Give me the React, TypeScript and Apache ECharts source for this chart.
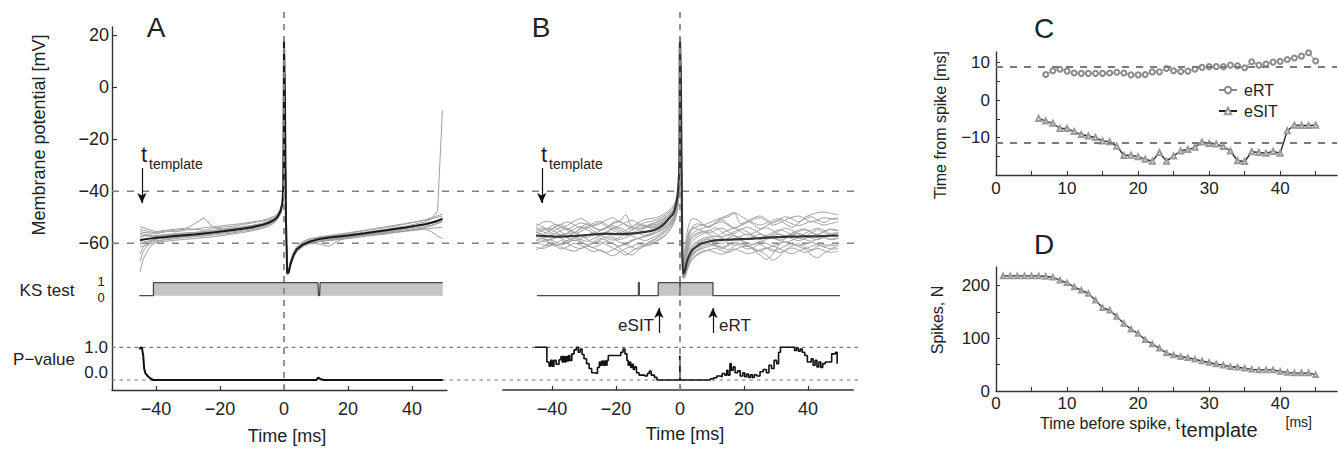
import React, { useEffect, useRef } from "react";
import * as echarts from "echarts";

const FONT = "'Liberation Sans', Arial, Helvetica, sans-serif";
const INK = "#222";

// ---------------- Panel A ----------------
const timeA = [-45, -44, -42, -40, -37, -34, -31, -28, -25, -22, -19, -16, -13, -10, -7, -5, -3, -2, -1, -0.5, -0.2, 0, 0.3, 0.6, 1, 1.5, 2, 3, 4, 6, 8, 11, 14, 17, 20, 23, 26, 29, 32, 35, 38, 41, 44, 46, 48, 49.5];
const meanA = [-58.8, -58.5, -58.2, -57.9, -57.6, -57.2, -56.9, -56.6, -56.2, -55.8, -55.4, -54.9, -54.4, -53.8, -53.0, -52.2, -51.0, -49.8, -47.5, -44.5, -38, 18, -5, -50, -71.5, -71, -68, -64.5, -62.3, -60.4, -59.4, -58.3, -57.8, -57.4, -57.0, -56.5, -56.0, -55.5, -55.0, -54.4, -53.9, -53.3, -52.7, -52.1, -51.4, -50.6];
const traceA1 = [-71, -66, -61.5, -59.5, -58.3, -57.8, -57.3, -56.8, -56.5, -56.1, -55.6, -55.2, -54.6, -54.0, -53.2, -52.4, -51.2, -50.0, -47.8, -44.8, -38.5, 17.5, -6, -51, -71, -70.5, -67.5, -64, -62, -60.2, -59.3, -58.8, -58.4, -58.0, -57.5, -57.0, -56.6, -56.2, -55.8, -55.3, -54.8, -54.2, -53.6, -53.0, -52.3, -51.5];
const traceA2 = [-55.5, -55.8, -56.0, -56.3, -55.6, -55.0, -54.6, -52.5, -50.2, -54.0, -54.6, -54.2, -53.8, -53.2, -52.6, -51.8, -50.6, -49.5, -47.2, -44.2, -37.5, 18, -4, -49, -71, -71.5, -68.5, -65, -62.8, -60.8, -59.8, -59.0, -58.6, -58.1, -57.4, -57.0, -56.4, -55.7, -55.2, -54.6, -54.0, -53.5, -52.8, -52.2, -51.5, -50.5];
const traceA3 = [-57.2, -57.0, -57.4, -57.0, -56.6, -56.3, -56.0, -55.8, -55.5, -55.0, -54.6, -54.1, -53.6, -53.1, -52.4, -51.6, -50.4, -49.2, -47.0, -44.0, -37, 18.5, -5.5, -50, -71, -70.8, -67.8, -64.2, -62, -60, -59.0, -58.2, -57.6, -57.1, -56.6, -56.1, -55.6, -55.1, -54.6, -54.0, -53.4, -52.6, -51.8, -50.8, -47.5, -9];
const traceA4 = [-60.5, -60.0, -59.5, -59.0, -58.7, -58.2, -57.8, -57.5, -57.2, -56.8, -56.4, -56.0, -55.4, -54.8, -54.0, -53.0, -51.8, -50.5, -48.0, -45.0, -39, 17.8, -6.5, -51, -72, -71.2, -68.2, -64.8, -62.5, -60.6, -59.6, -59.0, -58.6, -58.2, -57.8, -57.4, -57.0, -56.5, -56.0, -55.6, -55.2, -54.8, -54.4, -55.5, -57.2, -58.2];
const traceA5 = [-56.2, -56.4, -57.0, -57.2, -57.0, -56.6, -56.2, -55.9, -55.6, -55.3, -54.9, -54.4, -53.9, -53.4, -52.6, -51.8, -50.6, -49.4, -47.2, -44.2, -37.8, 18, -5, -50, -71.5, -71, -68, -64.6, -62.4, -60.5, -59.8, -60.3, -61.2, -59.0, -57.6, -57.0, -56.5, -56.0, -55.5, -55.0, -54.3, -53.5, -52.8, -52.0, -51.2, -50.3];
const traceA6 = [-54.5, -55.0, -55.5, -56.0, -55.2, -55.6, -55.0, -54.6, -55.0, -54.2, -53.8, -53.5, -52.8, -52.2, -51.6, -51.0, -50.0, -48.8, -46.5, -43.5, -36.8, 18, -4.5, -49, -70.8, -70.2, -67, -63.6, -61.6, -59.6, -58.6, -57.8, -57.2, -56.8, -56.2, -55.6, -55.0, -54.4, -53.9, -53.3, -52.6, -51.8, -51.0, -50.2, -49.4, -48.8];
const traceA7 = [-61.5, -61.0, -60.3, -59.6, -59.2, -58.8, -58.5, -58.2, -57.8, -57.5, -57.0, -56.4, -55.9, -55.2, -54.4, -53.5, -52.2, -50.8, -48.5, -45.2, -39.5, 17.5, -6, -51, -72, -71.8, -69, -65.4, -63.2, -61.2, -60.2, -59.4, -59.0, -58.6, -58.2, -57.7, -57.2, -56.8, -56.4, -55.8, -55.2, -54.6, -54.0, -53.3, -52.4, -51.8];
const traceA8 = [-67, -63, -59.8, -58.6, -57.0, -57.4, -56.5, -56.9, -55.9, -56.3, -55.0, -55.4, -54.0, -54.2, -53.0, -52.6, -51.4, -50.2, -48.0, -45.0, -38.2, 18, -5.2, -50.4, -71.3, -71, -68, -64.5, -62.2, -60.3, -59.2, -58.6, -58.0, -57.8, -57.0, -56.9, -56.2, -55.9, -55.3, -54.8, -54.2, -53.6, -53.0, -52.3, -51.7, -51.2];
const traceA9 = [-53.5, -54.0, -54.8, -55.5, -55.0, -54.6, -54.2, -54.6, -54.0, -53.6, -53.2, -52.8, -52.4, -51.8, -51.2, -50.6, -49.6, -48.6, -46.4, -43.4, -36.5, 18.2, -4.2, -48.8, -70.6, -70, -66.8, -63.2, -61.2, -59.2, -58.2, -57.5, -57.0, -56.5, -56.0, -55.4, -54.8, -54.2, -53.6, -53.0, -52.4, -51.8, -51.2, -50.6, -50.0, -49.5];
const traceA10 = [-59.8, -59.5, -59.0, -58.4, -58.0, -57.8, -57.4, -57.2, -56.8, -56.4, -56.0, -55.6, -55.0, -54.4, -53.6, -52.8, -51.6, -50.4, -48.2, -45.0, -38.8, 17.6, -5.8, -50.8, -71.8, -71.4, -68.6, -65.2, -63.0, -61.0, -60.0, -59.2, -58.8, -58.4, -57.9, -57.4, -57.0, -56.6, -56.2, -55.8, -55.4, -55.0, -54.6, -54.2, -54.0, -53.8];
const traceA11 = [-64, -61.5, -59.2, -58.0, -57.4, -56.9, -56.6, -56.2, -55.9, -55.5, -55.1, -54.7, -54.2, -53.6, -52.9, -52.1, -50.9, -49.7, -47.4, -44.4, -37.9, 18, -5, -50, -71.4, -70.9, -67.9, -64.4, -62.2, -60.2, -59.3, -58.5, -58.1, -57.7, -57.3, -56.8, -56.3, -55.8, -55.3, -54.8, -54.2, -53.6, -52.9, -52.3, -51.5, -50.2];
const traceA12 = [-57.8, -57.2, -56.6, -57.5, -57.0, -56.4, -56.8, -56.0, -55.8, -55.9, -55.0, -55.2, -54.2, -54.0, -53.3, -52.4, -51.3, -50.1, -47.8, -44.8, -38.3, 18, -5.1, -50.2, -71.6, -71.1, -68.1, -64.6, -62.4, -60.3, -59.5, -58.4, -58.0, -57.2, -57.1, -56.3, -56.2, -55.3, -55.1, -54.2, -54.0, -53.0, -52.6, -51.8, -51.0, -50.4];
const tracesA = [traceA1, traceA2, traceA3, traceA4, traceA5, traceA6, traceA7, traceA8, traceA9, traceA10, traceA11, traceA12];
const ksA = [[-45.2, 0], [-40.8, 0], [-40.8, 1], [10.6, 1], [10.8, 0], [11.1, 0], [11.3, 1], [49.6, 1]];
const pValueA = [[-45.2, 0.94], [-44.8, 1.0], [-44.4, 0.98], [-44.0, 0.75], [-43.7, 0.35], [-43.3, 0.2], [-42.4, 0.1], [-41.5, 0.03], [-40.8, 0], [10.0, 0], [10.7, 0.07], [11.5, 0.02], [12.5, 0], [49.6, 0]];

// ---------------- Panel B ----------------
const timeB = [-45, -43, -41, -39, -37, -35, -33, -31, -29, -27, -25, -23, -21, -19, -17, -15, -13, -11, -9, -7, -5, -3.5, -2, -1, -0.5, -0.2, 0, 0.3, 0.6, 1, 1.5, 2.2, 3, 4, 5.5, 7, 9, 11, 13, 15, 17, 19, 21, 23, 25, 27, 29, 31, 33, 35, 37, 39, 41, 43, 45, 47, 49.5];
const meanB = [-57.0, -57.2, -57.3, -57.4, -57.4, -57.3, -57.2, -57.0, -56.8, -56.6, -56.4, -56.3, -56.4, -56.5, -56.4, -56.2, -56.0, -55.6, -55.2, -54.3, -52.6, -50.6, -48.4, -43.5, -38, -30, 19, -2, -48, -71.7, -70.5, -67, -64.5, -62.5, -61, -60, -59.3, -58.9, -58.7, -58.6, -58.5, -58.4, -58.3, -58.2, -58.0, -57.8, -57.7, -57.6, -57.5, -57.4, -57.4, -57.3, -57.3, -57.3, -57.2, -57.1, -57.0];
const traceB1 = [-55.0, -54.0, -55.5, -53.5, -52.8, -54.6, -55.8, -54.0, -52.5, -53.8, -55.0, -54.2, -52.0, -51.5, -53.0, -54.5, -53.2, -52.0, -51.6, -50.8, -49.5, -48.0, -46.0, -43.0, -39.5, -33, 19, -2, -47, -70, -66, -60, -55.5, -53.5, -52.5, -53.0, -54.0, -52.2, -51.0, -52.5, -54.0, -53.0, -51.5, -52.8, -54.4, -53.2, -52.0, -51.2, -52.6, -53.8, -52.4, -50.0, -49.0, -48.2, -48.0, -48.5, -49.0];
const traceB2 = [-59.5, -60.5, -61.0, -60.0, -59.0, -60.2, -61.5, -62.0, -61.0, -60.0, -59.5, -60.5, -61.8, -63.0, -64.5, -63.0, -61.5, -60.5, -59.5, -58.0, -56.0, -54.0, -51.5, -47.5, -43, -36, 18.5, -4, -50, -73, -72, -69, -66.5, -64.5, -63, -62, -61.2, -60.5, -61.5, -62.5, -61.0, -60.0, -60.8, -62.0, -63.0, -64.5, -66.5, -65.0, -62.5, -61.0, -60.2, -61.5, -62.5, -61.2, -60.5, -61.0, -60.5];
const traceB3 = [-56.0, -55.0, -54.2, -55.5, -56.8, -56.0, -54.5, -53.5, -54.8, -56.2, -57.0, -56.0, -54.5, -54.0, -55.2, -56.5, -55.8, -54.2, -53.0, -52.5, -51.0, -49.5, -47.2, -44.5, -40.5, -35, 19, -3, -48, -71, -68, -63, -59, -57, -56, -55.5, -56.5, -57.5, -56.2, -55.0, -54.2, -55.5, -56.8, -56.0, -54.8, -54.0, -55.2, -56.5, -57.2, -56.0, -55.0, -54.5, -55.8, -56.5, -55.5, -54.8, -55.2];
const traceB4 = [-61.5, -62.0, -61.2, -60.5, -61.5, -62.5, -63.0, -62.0, -61.0, -61.8, -62.8, -63.5, -62.5, -61.2, -60.5, -61.5, -62.2, -61.0, -60.0, -59.0, -57.5, -55.5, -52.5, -48.5, -44, -37, 18, -5, -51, -73.5, -73, -70, -67.5, -65.5, -64, -63, -62.5, -62.0, -62.8, -63.5, -62.5, -61.5, -61.0, -62.2, -63.0, -62.0, -61.2, -62.0, -63.2, -64.0, -63.0, -62.2, -64.5, -65.5, -63.8, -62.5, -62.0];
const traceB5 = [-53.5, -52.0, -51.5, -52.8, -54.0, -53.0, -51.5, -50.5, -51.8, -53.2, -52.5, -51.0, -50.2, -51.5, -49.0, -53.5, -52.0, -50.8, -50.5, -50.0, -48.8, -47.5, -45.5, -42.5, -38.5, -32, 19, -1, -46, -69, -62, -56, -52, -50.5, -51.0, -52.5, -53.5, -52.0, -50.5, -49.8, -48.5, -52.5, -51.5, -50.2, -49.5, -50.8, -52.2, -51.0, -49.8, -50.5, -51.8, -50.6, -49.8, -51.0, -52.0, -50.8, -50.2];
const traceB6 = [-58.5, -59.5, -58.8, -57.5, -58.2, -59.2, -58.0, -57.2, -58.5, -59.8, -58.8, -57.5, -58.2, -59.5, -60.5, -59.2, -58.0, -57.5, -56.8, -55.5, -54.0, -52.5, -50.2, -46.8, -42.5, -35.5, 19, -3.5, -49, -72, -71, -67.5, -64, -62, -60.5, -59.2, -58.5, -59.5, -60.2, -59.0, -58.2, -58.8, -59.8, -60.5, -59.5, -58.5, -57.8, -58.8, -59.6, -58.8, -58.0, -58.5, -59.2, -58.4, -57.8, -58.6, -58.2];
const traceB7 = [-55.8, -56.5, -57.5, -56.2, -55.0, -54.5, -55.8, -57.0, -57.8, -56.5, -55.2, -54.0, -53.2, -54.5, -56.0, -55.0, -53.8, -53.0, -54.0, -53.2, -51.8, -50.0, -47.8, -44.8, -41, -34.5, 19, -2.5, -47.5, -71, -69, -64.5, -61, -59, -57.5, -56.5, -55.2, -54.0, -55.5, -57.0, -56.2, -54.8, -53.8, -54.8, -56.2, -57.5, -56.5, -55.2, -54.2, -55.0, -56.4, -57.2, -56.0, -54.8, -55.8, -56.8, -56.0];
const traceB8 = [-60.0, -59.0, -58.5, -59.5, -60.5, -59.8, -58.8, -59.5, -60.8, -61.5, -60.5, -59.2, -60.0, -61.8, -63.5, -64.5, -62.5, -60.5, -59.0, -57.5, -55.8, -53.8, -51.2, -47.5, -43.2, -36.5, 18.5, -4.5, -50.5, -73, -72.5, -69.5, -66.5, -64.2, -62.5, -61.5, -60.5, -61.2, -62.0, -61.0, -60.2, -61.0, -62.2, -61.5, -60.5, -61.8, -63.0, -62.2, -61.0, -60.2, -61.2, -62.0, -61.2, -60.5, -61.5, -62.0, -61.0];
const traceB9 = [-57.5, -58.2, -57.0, -56.2, -57.2, -58.0, -59.0, -58.2, -57.0, -56.0, -56.8, -58.0, -58.8, -57.8, -56.5, -57.2, -58.2, -57.0, -56.2, -55.0, -53.5, -52.0, -49.8, -46.2, -42, -35, 19, -3, -48.5, -71.5, -70, -66, -62.5, -60.5, -59.2, -58.2, -57.5, -58.5, -59.2, -58.0, -57.2, -57.8, -58.6, -57.5, -56.5, -57.2, -58.0, -58.8, -58.0, -57.0, -56.2, -57.0, -58.0, -58.6, -57.6, -56.8, -57.2];
const traceB10 = [-54.5, -55.5, -56.2, -55.0, -54.0, -55.2, -56.2, -55.5, -54.2, -53.0, -52.2, -53.5, -55.0, -56.0, -55.0, -53.8, -52.5, -53.2, -54.2, -53.5, -52.0, -50.5, -48.5, -45.5, -41.5, -34, 19, -2, -47, -70.5, -67.5, -62, -58, -56, -55, -54.2, -53.5, -52.5, -51.8, -53.0, -54.2, -53.2, -52.0, -50.8, -50.2, -51.5, -53.0, -52.2, -51.0, -50.0, -49.5, -50.6, -51.8, -51.0, -50.2, -50.5, -51.0];
const traceB11 = [-55.5, -56.8, -55.2, -54.0, -55.8, -57.0, -56.0, -54.5, -53.8, -55.2, -56.5, -55.5, -54.2, -55.5, -57.0, -56.2, -54.8, -54.0, -53.5, -52.8, -51.2, -49.8, -47.5, -44.2, -40.2, -34.2, 19, -2.5, -47.8, -71, -68.5, -63.5, -59.8, -57.8, -56.5, -55.8, -55.0, -56.2, -57.5, -56.8, -55.5, -54.5, -55.6, -57.0, -58.0, -57.0, -55.8, -54.8, -55.5, -56.8, -57.5, -56.2, -55.0, -54.2, -55.0, -56.2, -55.8];
const traceB12 = [-59.0, -58.2, -59.5, -60.8, -60.0, -58.8, -58.0, -59.2, -60.5, -59.5, -58.2, -58.8, -60.2, -61.0, -60.0, -58.8, -58.2, -59.0, -58.0, -56.8, -55.2, -53.2, -50.8, -47.0, -42.8, -36, 18.5, -4, -49.8, -72.5, -72, -69, -66, -63.8, -62, -60.8, -60.0, -60.8, -61.5, -60.5, -59.5, -60.2, -61.2, -60.2, -59.2, -60.0, -61.0, -60.2, -59.4, -60.2, -61.0, -60.4, -59.6, -60.4, -61.2, -60.5, -59.8];
const traceB13 = [-52.5, -53.5, -54.8, -53.8, -52.5, -51.8, -53.0, -54.2, -53.5, -52.2, -51.5, -52.8, -54.0, -53.2, -52.0, -51.2, -52.5, -53.5, -52.8, -51.5, -50.2, -48.8, -46.8, -43.8, -40, -33.5, 19, -1.5, -46.5, -70, -65, -58.5, -55, -54, -54.5, -55.2, -56.0, -55.0, -54.2, -55.5, -57.0, -58.5, -60.5, -62.5, -64.5, -66.2, -64.0, -60.5, -58.0, -56.5, -55.5, -54.8, -55.8, -56.8, -55.5, -54.5, -55.0];
const traceB14 = [-62.5, -61.5, -60.2, -61.0, -62.2, -61.2, -60.0, -60.8, -62.0, -63.2, -62.5, -63.8, -64.8, -63.5, -62.0, -61.2, -60.2, -61.0, -60.5, -58.8, -57.0, -55.0, -52.0, -48.0, -43.5, -36.8, 18, -4.8, -50.8, -73.5, -73, -70.5, -68, -66, -64.5, -63.5, -62.8, -63.5, -64.2, -63.2, -62.2, -63.0, -64.0, -63.5, -62.5, -61.8, -62.5, -63.5, -62.8, -61.8, -62.5, -63.5, -62.8, -62.0, -62.8, -63.5, -63.0];
const traceB15 = [-56.8, -57.8, -58.8, -58.0, -56.8, -56.2, -57.2, -58.5, -59.2, -58.2, -57.2, -56.5, -57.5, -58.5, -57.8, -56.8, -56.2, -57.0, -56.5, -55.8, -54.5, -52.8, -50.5, -46.8, -42.2, -35.2, 19, -3, -48.8, -71.8, -70.5, -66.8, -63.5, -61.2, -59.8, -58.8, -58.0, -57.2, -58.0, -58.8, -58.2, -57.2, -56.5, -57.5, -58.5, -58.0, -57.0, -56.5, -57.2, -58.2, -59.0, -58.2, -57.2, -56.8, -57.6, -58.4, -57.8];
const traceB16 = [-53.8, -54.8, -54.0, -52.8, -53.5, -54.5, -53.2, -52.2, -52.8, -54.0, -54.8, -53.8, -52.5, -51.8, -52.8, -53.8, -54.5, -53.5, -52.5, -51.8, -50.5, -49.0, -47.0, -44.0, -40.2, -33.8, 19, -2, -47.2, -70.2, -66.5, -60.5, -56.5, -54.5, -53.5, -53.0, -52.2, -51.0, -50.2, -49.2, -48.2, -49.5, -51.0, -52.2, -53.0, -52.2, -51.2, -50.5, -51.5, -52.5, -53.2, -52.5, -51.5, -52.2, -53.0, -52.4, -51.8];
const tracesB = [traceB1, traceB2, traceB3, traceB4, traceB5, traceB6, traceB7, traceB8, traceB9, traceB10, traceB11, traceB12, traceB13, traceB14, traceB15, traceB16];
const ksB = [[-44.7, 0], [-13.0, 0], [-13.0, 1], [-12.7, 1], [-12.7, 0], [-6.8, 0], [-6.8, 1], [-0.05, 1], [-0.05, 0], [0.05, 0], [0.05, 1], [10.3, 1], [10.3, 0], [50, 0]];
const pValueB = [[-45.3, 1.0], [-41.6, 0.55], [-40.9, 0.42], [-40.4, 0.6], [-39.9, 0.42], [-39.4, 0.6], [-38.7, 0.48], [-37.8, 0.62], [-37.2, 0.72], [-36.8, 0.55], [-36.4, 0.72], [-36.0, 0.55], [-35.6, 0.72], [-35.2, 0.58], [-34.8, 0.75], [-34.4, 0.6], [-33.8, 0.8], [-33.1, 0.92], [-32.4, 1.0], [-31.8, 0.85], [-31.2, 0.95], [-30.6, 0.78], [-30.0, 0.65], [-29.2, 0.5], [-28.4, 0.35], [-27.6, 0.22], [-26.6, 0.2], [-25.8, 0.38], [-25.2, 0.55], [-24.8, 0.45], [-24.4, 0.58], [-24.0, 0.45], [-23.6, 0.58], [-23.2, 0.45], [-22.8, 0.6], [-22.4, 0.75], [-18.5, 0.85], [-17.8, 0.95], [-17.2, 0.8], [-16.6, 0.6], [-16.2, 0.45], [-15.8, 0.55], [-15.4, 0.38], [-15.0, 0.48], [-14.6, 0.32], [-14.2, 0.4], [-13.6, 0.22], [-12.8, 0.15], [-11.0, 0.12], [-10.2, 0.2], [-9.6, 0.27], [-9.0, 0.15], [-8.0, 0.08], [-7.2, 0], [-0.05, 0.75], [0.05, 0], [9.5, 0.04], [10.5, 0.07], [11.5, 0.12], [12.5, 0.1], [13.2, 0.2], [14.0, 0.15], [14.6, 0.3], [15.0, 0.15], [15.6, 0.5], [16.0, 0.3], [16.6, 0.4], [17.2, 0.22], [18.0, 0.28], [18.8, 0.12], [19.6, 0.22], [20.2, 0.1], [20.8, 0.18], [21.4, 0.08], [22.0, 0.16], [22.6, 0.08], [23.2, 0.16], [24.0, 0.12], [25.0, 0.25], [26.0, 0.32], [27.0, 0.22], [27.8, 0.45], [28.6, 0.35], [29.4, 0.6], [30.2, 0.5], [30.8, 0.85], [31.4, 1.0], [35.8, 0.9], [36.4, 0.98], [37.0, 0.88], [37.6, 0.95], [38.2, 0.85], [39.0, 0.75], [39.8, 0.55], [41.0, 0.65], [41.6, 0.45], [42.2, 0.6], [42.8, 0.4], [43.4, 0.55], [44.0, 0.38], [44.6, 0.5], [45.4, 0.55], [46.8, 0.55], [47.4, 0.8], [48.6, 0.85], [49.1, 0.5], [49.3, 0.5]];

// shared ticks / reference levels for A and B
const timeTicks = [-40, -20, 0, 20, 40];
const mvTicks = [-60, -40, -20, 0, 20];
const ksLabels = ["1", "0"];
const pTicks = [0, 1];
const mvRefLevels = [-40, -60];
const pRefLevels = [1, 0];
// annotations: [time, from, to]
const templateArrowA = [-44.4, -31.1, -44.5];
const templateArrowB = [-43.2, -31.1, -44.5];
const esitArrow = [-6.6, 1.44, 2.2];
const ertArrow = [10.3, 1.44, 2.2];

// ---------------- Panel C ----------------
const ertTime = [7, 8, 9, 10, 11, 12, 13, 14, 15, 16, 17, 18, 19, 20, 21, 22, 23, 24, 25, 26, 27, 28, 29, 30, 31, 32, 33, 34, 35, 36, 37, 38, 39, 40, 41, 42, 43, 44, 45];
const ertValues = [6.8, 7.8, 8.2, 7.7, 7.2, 7.1, 7.1, 7.1, 7.1, 7.2, 7.4, 7.2, 6.7, 6.7, 6.8, 7.5, 7.5, 8.4, 7.8, 7.6, 7.7, 8.2, 8.7, 8.9, 8.9, 8.9, 9.3, 9.1, 8.6, 10.2, 9.3, 9.6, 10.1, 10.3, 10.8, 11.2, 11.7, 12.6, 10.4];
const esitTime = [6, 7, 8, 9, 10, 11, 12, 13, 14, 15, 16, 17, 18, 19, 20, 21, 22, 23, 24, 25, 26, 27, 28, 29, 30, 31, 32, 33, 34, 35, 36, 37, 38, 39, 40, 41, 42, 43, 44, 45];
const esitValues = [-4.9, -5.6, -6.2, -7.6, -7.6, -8.4, -9.2, -9.6, -10.0, -10.9, -11.1, -12.3, -14.8, -14.7, -15.1, -15.8, -16.3, -14.0, -16.3, -14.9, -13.6, -13.2, -12.6, -11.2, -11.6, -11.7, -12.4, -13.6, -16.2, -16.4, -13.8, -14.0, -14.2, -13.7, -14.2, -8.2, -6.7, -6.8, -6.8, -6.7];
const cRefLevels = [8.9, -11.5];
const cdTicksX = [0, 5, 10, 15, 20, 25, 30, 35, 40, 45];
const cdLabelsX = [0, 10, 20, 30, 40];
const cTicksY = [-15, -10, -5, 0, 5, 10];
const cLabelsY = [-10, 0, 10];

// ---------------- Panel D ----------------
const dTime = [1, 2, 3, 4, 5, 6, 7, 8, 9, 10, 11, 12, 13, 14, 15, 16, 17, 18, 19, 20, 21, 22, 23, 24, 25, 26, 27, 28, 29, 30, 31, 32, 33, 34, 35, 36, 37, 38, 39, 40, 41, 42, 43, 44, 45];
const spikesN = [218, 218, 218, 218, 218, 218, 217, 215.6, 210, 205, 197, 191, 185, 172, 158, 153, 141, 128, 117, 109, 97, 89, 81, 72, 68, 65, 63, 60, 57, 54, 51, 49, 46, 45, 43, 41, 40, 40, 40, 37, 35, 34, 34, 34, 31];
const dTicksY = [0, 50, 100, 150, 200];
const dLabelsY = [0, 100, 200];

const pair = (xs: number[], ys: number[]) => xs.map((x, i) => [x, ys[i]]);
const minus = (v: number) => (v < 0 ? "\u2212" + Math.abs(v) : String(v));

function buildOption() {
  const A_X = [-53.75, 50.94];
  const B_X = [-55.31, 54.06];
  const MV_Y = [-73.32, 23.07];
  const KS_Y = [-0.792, 1.3615];
  const P_Y = [-0.306, 2.263];

  const g = (left: number, top: number, width: number, height: number) => ({
    left, top, width, height, containLabel: false, outerBoundsMode: "none",
  });
  const grid = [
    g(112, 27, 335, 251), // 0 A mV
    g(112, 278, 335, 28), // 1 A KS
    g(112, 306, 335, 84), // 2 A P
    g(503, 27, 350, 251), // 3 B mV
    g(503, 278, 350, 28), // 4 B KS
    g(503, 306, 350, 84), // 5 B P
    g(112, 27, 746, 251), // 6 ref mV lines
    g(112, 306, 746, 84), // 7 ref P lines
    g(112, 12, 335, 378), // 8 ref vertical A
    g(503, 12, 350, 378), // 9 ref vertical B
    g(996, 52, 341, 123), // 10 C
    g(996, 267, 341, 124), // 11 D
  ];

  const tickFont = { fontSize: 18, color: INK, fontFamily: FONT };
  const tickFontCD = { fontSize: 17, color: INK, fontFamily: FONT };
  const hidden = (gridIndex: number, r: number[]) => ({
    type: "value", gridIndex, min: r[0], max: r[1], show: false,
    axisLine: { onZero: false }, splitLine: { show: false },
  });
  const timeAxis = (gridIndex: number, r: number[], lineColor: string, lw: number) => ({
    type: "value", gridIndex, min: r[0], max: r[1],
    axisLine: { show: true, onZero: false, lineStyle: { color: lineColor, width: lw } },
    axisTick: { show: true, inside: true, length: 4, customValues: timeTicks, lineStyle: { color: "#333", width: 1.2 } },
    axisLabel: { show: true, customValues: timeTicks, formatter: minus, margin: 10, ...tickFont },
    splitLine: { show: false },
  });
  const cdX = (gridIndex: number, margin: number) => ({
    type: "value", gridIndex, min: 0, max: 48,
    axisLine: { show: true, onZero: false, lineStyle: { color: "#333", width: 1.4 } },
    axisTick: { show: true, inside: true, length: 4, customValues: cdTicksX, lineStyle: { color: "#333" } },
    axisLabel: { show: true, customValues: cdLabelsX, margin, ...tickFontCD },
    splitLine: { show: false },
  });

  const xAxis = [
    hidden(0, A_X), hidden(1, A_X), timeAxis(2, A_X, "#333", 1.4),
    hidden(3, B_X), hidden(4, B_X), timeAxis(5, B_X, "#666", 2),
    hidden(6, [0, 1]), hidden(7, [0, 1]), hidden(8, A_X), hidden(9, B_X),
    cdX(10, 5), cdX(11, 4),
  ];

  const yLine = { show: true, onZero: false, lineStyle: { color: "#333", width: 1.4 } };
  const yAxis = [
    {
      type: "value", gridIndex: 0, min: MV_Y[0], max: MV_Y[1], axisLine: yLine,
      axisTick: { show: true, inside: true, length: 5, customValues: mvTicks, lineStyle: { color: "#333", width: 1.2 } },
      axisLabel: { show: true, customValues: mvTicks, formatter: minus, margin: 3, ...tickFont },
      splitLine: { show: false },
    },
    {
      type: "value", gridIndex: 1, min: KS_Y[0], max: KS_Y[1], axisLine: yLine,
      axisTick: { show: false }, axisLabel: { show: false }, splitLine: { show: false },
    },
    {
      type: "value", gridIndex: 2, min: P_Y[0], max: P_Y[1], axisLine: yLine,
      axisTick: { show: false },
      axisLabel: {
        show: true, customValues: pTicks, margin: 4,
        formatter: (v: number) => (v === 0 ? "{lo|0.0}" : "{hi|1.0}"),
        rich: {
          lo: { fontSize: 17, color: INK, fontFamily: FONT, padding: [0, 0, 14, 0] },
          hi: { fontSize: 17, color: INK, fontFamily: FONT },
        },
      },
      splitLine: { show: false },
    },
    hidden(3, MV_Y), hidden(4, KS_Y), hidden(5, P_Y),
    hidden(6, MV_Y), hidden(7, P_Y), hidden(8, [0, 1]), hidden(9, [0, 1]),
    {
      type: "value", gridIndex: 10, min: -20, max: 12.8, axisLine: yLine,
      axisTick: { show: true, inside: true, length: 4, customValues: cTicksY, lineStyle: { color: "#333" } },
      axisLabel: { show: true, customValues: cLabelsY, formatter: minus, margin: 6, ...tickFontCD },
      splitLine: { show: false },
    },
    {
      type: "value", gridIndex: 11, min: 0, max: 235, axisLine: yLine,
      axisTick: { show: true, inside: true, length: 4, customValues: dTicksY, lineStyle: { color: "#333" } },
      axisLabel: { show: true, customValues: dLabelsY, margin: 6, ...tickFontCD },
      splitLine: { show: false },
    },
  ];

  const line = (idx: number, data: any[], color: string, width: number, extra: any = {}) => ({
    type: "line", xAxisIndex: idx, yAxisIndex: idx, data, symbol: "none", showSymbol: false,
    silent: true, lineStyle: { color, width }, emphasis: { disabled: true }, ...extra,
  });
  const arrow = (coords: number[]) => ({
    silent: true, symbol: ["none", "arrow"], symbolSize: [7, 10],
    lineStyle: { color: "#111", width: 1.2, type: "solid" }, label: { show: false },
    emphasis: { disabled: true },
    data: [[{ coord: [coords[0], coords[1]] }, { coord: [coords[0], coords[2]] }]],
  });

  const series: any[] = [];
  // Panel A
  tracesA.forEach((tr) => series.push(line(0, pair(timeA, tr), "#a0a0a0", 1, { z: 2 })));
  series.push(line(0, pair(timeA, meanA), "#1a1a1a", 2, { z: 3, markLine: arrow(templateArrowA) }));
  series.push(line(1, ksA, "#4a4a4a", 1.3, { areaStyle: { color: "#c4c4c4", opacity: 1 } }));
  series.push(line(2, pValueA, "#111", 2));
  // Panel B
  tracesB.forEach((tr) => series.push(line(3, pair(timeB, tr), "#a0a0a0", 1, { z: 2, smooth: 0.3 })));
  series.push(line(3, pair(timeB, meanB), "#333", 2.2, { z: 3, smooth: 0.3, markLine: arrow(templateArrowB) }));
  series.push(line(4, ksB, "#4a4a4a", 1.3, { areaStyle: { color: "#c4c4c4", opacity: 1 } }));
  series.push(line(5, pValueB, "#111", 1.6, { step: "end" }));
  series.push(line(5, [], "#111", 1, { markLine: arrow(esitArrow) }));
  series.push(line(5, [], "#111", 1, { markLine: arrow(ertArrow) }));
  // reference lines
  mvRefLevels.forEach((lv) =>
    series.push(line(6, [[0, lv], [1, lv]], "#808080", 1.5, { z: 1, lineStyle: { color: "#808080", width: 1.5, type: [7, 8] } }))
  );
  pRefLevels.forEach((lv) =>
    series.push(line(7, [[0, lv], [1, lv]], "#777", 1.2, { z: 1, lineStyle: { color: "#777", width: 1.2, type: [3.5, 4] } }))
  );
  series.push(line(8, [[0, 0], [0, 1]], "#888", 1.8, { z: 5, lineStyle: { color: "#888", width: 1.8, type: [6, 6] } }));
  series.push(line(9, [[0, 0], [0, 1]], "#888", 1.8, { z: 5, lineStyle: { color: "#888", width: 1.8, type: [6, 6] } }));
  // Panel C
  series.push({
    type: "line", name: "eRT", xAxisIndex: 10, yAxisIndex: 10, data: pair(ertTime, ertValues),
    symbol: "emptyCircle", symbolSize: 5, showSymbol: true, silent: true, clip: false,
    lineStyle: { color: "#8a8a8a", width: 1 }, itemStyle: { color: "#8a8a8a", borderWidth: 1 },
    emphasis: { disabled: true },
    markLine: {
      silent: true, symbol: ["none", "none"], label: { show: false },
      lineStyle: { color: "#7a7a7a", width: 1.8, type: [7, 7] },
      data: cRefLevels.map((v) => ({ yAxis: v })),
    },
  });
  series.push({
    type: "line", name: "eSIT", xAxisIndex: 10, yAxisIndex: 10, data: pair(esitTime, esitValues),
    symbol: "emptyTriangle", symbolSize: 5, showSymbol: true, silent: true,
    lineStyle: { color: "#222", width: 1.3 }, itemStyle: { color: "#999", borderWidth: 1 },
    emphasis: { disabled: true },
  });
  // Panel D
  series.push({
    type: "line", name: "Spikes", xAxisIndex: 11, yAxisIndex: 11, data: pair(dTime, spikesN),
    symbol: "emptyTriangle", symbolSize: 4.5, showSymbol: true, silent: true,
    lineStyle: { color: "#222", width: 1.3 }, itemStyle: { color: "#999", borderWidth: 1 },
    emphasis: { disabled: true },
  });

  const txt = (text: string, x: number, y: number, size: number, align = "center", rot = 0) => ({
    type: "text", x, y, rotation: rot, silent: true, z: 20,
    style: {
      text, fontSize: size, fontFamily: FONT, fill: INK,
      textAlign: align, align, textVerticalAlign: "middle", verticalAlign: "middle",
    },
  });
  const R = Math.PI / 2;
  const graphic = [
    txt("A", 156, 27, 28), txt("B", 541, 27, 28), txt("C", 1044, 28, 28), txt("D", 1044, 244, 28),
    txt("Membrane potential [mV]", 39, 135, 18, "center", R),
    txt("KS test", 47, 290, 17), txt("P\u2212value", 44, 359, 17),
    txt(ksLabels[0], 101, 281, 13), txt(ksLabels[1], 101, 297, 13),
    txt("Time [ms]", 287, 436, 18), txt("Time [ms]", 685, 434, 18),
    txt("t", 141, 154, 22, "left"), txt("template", 149, 163.5, 14, "left"),
    txt("t", 541, 154, 22, "left"), txt("template", 549, 163.5, 14, "left"),
    txt("eSIT", 654, 325, 17, "right"), txt("eRT", 719, 325, 17, "left"),
    txt("Time from spike [ms]", 940, 125, 16, "center", R),
    txt("Spikes, N", 937, 320, 16, "center", R),
    txt("Time before spike, t", 1180, 423, 16, "right"),
    txt("template", 1181, 430, 20, "left"),
    txt("[ms]", 1312, 422, 14, "right"),
  ];

  return {
    animation: false,
    backgroundColor: "#ffffff",
    textStyle: { fontFamily: FONT },
    grid, xAxis, yAxis, series, graphic,
    legend: {
      data: ["eRT", "eSIT"], orient: "vertical", left: 1218, top: 82, itemWidth: 18, itemHeight: 8,
      itemGap: 5, selectedMode: false, padding: 0,
      textStyle: { fontSize: 16, color: INK, fontFamily: FONT, padding: [0, 0, 0, 2] },
    },
  };
}

export default function App() {
  const ref = useRef<HTMLDivElement>(null);
  useEffect(() => {
    if (!ref.current) return;
    const chart = echarts.init(ref.current, null, { renderer: "svg" });
    chart.setOption(buildOption() as any);
    return () => chart.dispose();
  }, []);
  return (
    <div
      ref={ref}
      style={{ position: "fixed", left: 0, top: 0, width: 1339, height: 450, background: "#fff" }}
    />
  );
}
